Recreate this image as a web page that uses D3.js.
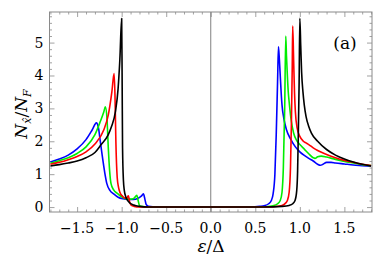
<!DOCTYPE html>
<html>
<head>
<meta charset="utf-8">
<script src="https://cdn.jsdelivr.net/npm/d3@7"></script>
<style>
  body { margin: 0; background: #fff; }
  svg { display: block; }
</style>
</head>
<body>
<script>
// values: [eps/Delta, N/N_F]
const blueData = [
  [-1.8, 1.37], [-1.7, 1.46], [-1.6, 1.58], [-1.5, 1.77], [-1.4, 2.05], [-1.33, 2.35],
  [-1.284, 2.56], [-1.26, 2.4], [-1.24, 2.0], [-1.22, 1.6], [-1.19, 1.05], [-1.167, 0.72],
  [-1.13, 0.5], [-1.09, 0.4], [-1.04, 0.3], [-0.985, 0.25], [-0.93, 0.23], [-0.87, 0.23],
  [-0.82, 0.26], [-0.78, 0.33], [-0.756, 0.4], [-0.74, 0.25], [-0.725, 0.08], [-0.7, 0.02],
  [-0.6, 0.0], [0.45, 0.0], [0.55, 0.02], [0.6, 0.04], [0.65, 0.1], [0.68, 0.2], [0.7, 0.4],
  [0.72, 1.0], [0.735, 2.2], [0.75, 3.8], [0.76, 4.87], [0.77, 4.5], [0.78, 4.0], [0.79, 3.5],
  [0.8, 3.1], [0.82, 2.7], [0.85, 2.35], [0.9, 2.05], [0.95, 1.83], [1.0, 1.68], [1.05, 1.57],
  [1.1, 1.48], [1.15, 1.4], [1.2, 1.3], [1.23, 1.27], [1.26, 1.3], [1.3, 1.36], [1.35, 1.36],
  [1.4, 1.34], [1.5, 1.31], [1.6, 1.28], [1.7, 1.26], [1.8, 1.24]
];
const greenData = [
  [-1.8, 1.33], [-1.7, 1.41], [-1.6, 1.5], [-1.5, 1.63], [-1.4, 1.83], [-1.3, 2.2],
  [-1.24, 2.6], [-1.2, 2.9], [-1.183, 3.05], [-1.165, 2.7], [-1.15, 1.8], [-1.135, 1.1],
  [-1.12, 0.72], [-1.09, 0.52], [-1.05, 0.42], [-1.0, 0.31], [-0.95, 0.25], [-0.9, 0.24],
  [-0.86, 0.27], [-0.83, 0.36], [-0.815, 0.2], [-0.8, 0.05], [-0.78, 0.02], [-0.7, 0.0],
  [0.5, 0.0], [0.62, 0.01], [0.7, 0.04], [0.75, 0.1], [0.78, 0.2], [0.8, 0.45], [0.815, 1.2],
  [0.83, 3.0], [0.842, 5.2], [0.85, 4.6], [0.86, 4.0], [0.87, 3.5], [0.88, 3.2], [0.9, 2.7],
  [0.93, 2.25], [0.97, 2.0], [1.0, 1.9], [1.05, 1.76], [1.1, 1.62], [1.15, 1.5], [1.17, 1.48],
  [1.2, 1.53], [1.24, 1.55], [1.3, 1.52], [1.4, 1.45], [1.5, 1.39], [1.6, 1.34], [1.7, 1.29],
  [1.8, 1.26]
];
const redData = [
  [-1.8, 1.3], [-1.7, 1.36], [-1.6, 1.44], [-1.5, 1.54], [-1.4, 1.68], [-1.3, 1.92],
  [-1.2, 2.35], [-1.15, 2.8], [-1.11, 3.5], [-1.085, 4.06], [-1.075, 3.4], [-1.065, 2.0],
  [-1.05, 0.9], [-1.035, 0.6], [-1.02, 0.45], [-0.99, 0.33], [-0.96, 0.27], [-0.94, 0.28],
  [-0.925, 0.34], [-0.91, 0.15], [-0.89, 0.05], [-0.86, 0.02], [-0.8, 0.0], [0.6, 0.0],
  [0.7, 0.01], [0.8, 0.05], [0.84, 0.12], [0.86, 0.2], [0.88, 0.45], [0.895, 1.2],
  [0.905, 2.5], [0.915, 4.3], [0.92, 5.5], [0.93, 4.5], [0.94, 3.5], [0.95, 2.9], [0.97, 2.4],
  [1.0, 2.15], [1.04, 2.0], [1.07, 1.95], [1.1, 1.9], [1.15, 1.8], [1.2, 1.72], [1.3, 1.6],
  [1.4, 1.5], [1.5, 1.42], [1.6, 1.36], [1.7, 1.3], [1.8, 1.26]
];
const blackData = [
  [-1.8, 1.25], [-1.7, 1.29], [-1.6, 1.34], [-1.5, 1.4], [-1.4, 1.5], [-1.3, 1.66],
  [-1.23, 1.9], [-1.15, 2.2], [-1.115, 2.44], [-1.07, 2.9], [-1.04, 3.6], [-1.02, 4.5],
  [-1.0, 5.73], [-0.995, 4.0], [-0.99, 1.8], [-0.98, 0.8], [-0.97, 0.5], [-0.955, 0.32],
  [-0.936, 0.21], [-0.91, 0.13], [-0.88, 0.08], [-0.85, 0.05], [-0.8, 0.02], [-0.7, 0.0],
  [0.6, 0.0], [0.8, 0.02], [0.88, 0.05], [0.92, 0.1], [0.946, 0.2], [0.965, 0.5], [0.975, 1.1],
  [0.983, 2.24], [0.992, 3.8], [1.0, 5.74], [1.01, 4.9], [1.02, 4.1], [1.035, 3.5],
  [1.05, 3.1], [1.07, 2.75], [1.1, 2.45], [1.13, 2.25], [1.2, 2.0], [1.3, 1.75], [1.4, 1.58],
  [1.5, 1.46], [1.6, 1.37], [1.7, 1.3], [1.8, 1.25]
];
const series = [
  { data: blueData, color: '#0000ff' },
  { data: greenData, color: '#00ee00' },
  { data: redData, color: '#ff0000' },
  { data: blackData, color: '#000000' }
];
const xTicks = [-1.5, -1.0, -0.5, 0.0, 0.5, 1.0, 1.5];
const yTicks = [0, 1, 2, 3, 4, 5];

const w = 388, h = 272;
const mLeft = 49.5, mRight = 372, mTop = 12, mBottom = 212;
const serif = 'DejaVu Serif, serif';

const svg = d3.select('body').append('svg').attr('width', w).attr('height', h)
  .attr('font-family', serif);

const x = d3.scaleLinear().domain([-1.81, 1.81]).range([mLeft, mRight]);
const y = d3.scaleLinear().domain([-0.15, 5.93]).range([mBottom, mTop]);

const frameColor = '#8a8a8a';

// minor ticks (every 0.1 on x, 0.2 on y)
const xMinor = d3.range(-18, 19).map(i => i / 10).filter(v => !xTicks.some(t => Math.abs(t - v) < 1e-9));
const yMinor = d3.range(0, 30).map(i => i / 5).filter(v => v <= 5.9 && !yTicks.includes(v));

function tickAxis(axisFn, scale, vals, size, tf) {
  const g = svg.append('g').attr('transform', tf)
    .call(axisFn(scale).tickValues(vals).tickSize(-size).tickFormat(''));
  g.select('.domain').remove();
  g.selectAll('line').attr('stroke', frameColor).attr('stroke-width', 0.8);
  return g;
}
tickAxis(d3.axisBottom, x, xTicks, 5, `translate(0,${mBottom})`);
tickAxis(d3.axisBottom, x, xMinor, 2.5, `translate(0,${mBottom})`);
tickAxis(d3.axisTop, x, xTicks, 5, `translate(0,${mTop})`);
tickAxis(d3.axisTop, x, xMinor, 2.5, `translate(0,${mTop})`);
tickAxis(d3.axisLeft, y, yTicks, 5, `translate(${mLeft},0)`);
tickAxis(d3.axisLeft, y, yMinor, 2.5, `translate(${mLeft},0)`);
tickAxis(d3.axisRight, y, yTicks, 5, `translate(${mRight},0)`);
tickAxis(d3.axisRight, y, yMinor, 2.5, `translate(${mRight},0)`);

// tick labels
const fmt = v => (v < 0 ? '\u2212' : '') + Math.abs(v).toFixed(1);
svg.append('g').selectAll('text').data(xTicks).join('text')
  .attr('x', d => x(d)).attr('y', mBottom + 21)
  .attr('font-family', serif)
  .attr('text-anchor', 'middle').attr('font-size', 14).text(fmt);
svg.append('g').selectAll('text').data(yTicks).join('text')
  .attr('x', mLeft - 6).attr('y', d => y(d) + 5)
  .attr('font-family', serif)
  .attr('text-anchor', 'end').attr('font-size', 14).text(d => d);

// zero line
svg.append('line')
  .attr('x1', x(0)).attr('x2', x(0)).attr('y1', mTop).attr('y2', mBottom)
  .attr('stroke', '#808080').attr('stroke-width', 1);

// curves
const line = d3.line().x(d => x(d[0])).y(d => y(d[1])).curve(d3.curveMonotoneX);
svg.append('g').selectAll('path').data(series).join('path')
  .attr('d', d => line(d.data))
  .attr('fill', 'none')
  .attr('stroke', d => d.color)
  .attr('stroke-width', 1.6)
  .attr('stroke-linejoin', 'round');

// frame
svg.append('rect')
  .attr('x', mLeft).attr('y', mTop).attr('width', mRight - mLeft).attr('height', mBottom - mTop)
  .attr('fill', 'none').attr('stroke', frameColor).attr('stroke-width', 1);

// labels
svg.append('text').attr('x', 345).attr('y', 49).attr('text-anchor', 'middle')
  .attr('font-family', serif).attr('font-size', 17).text('(a)');

const xl = svg.append('text').attr('x', 211).attr('y', 252).attr('text-anchor', 'middle')
  .attr('font-family', serif).attr('font-size', 17);
xl.append('tspan').attr('font-style', 'italic').text('\u03b5');
xl.append('tspan').text('/\u0394');

const yl = svg.append('text')
  .attr('transform', 'translate(27,114) rotate(-90)')
  .attr('font-family', serif)
  .attr('text-anchor', 'middle').attr('font-size', 17);
yl.append('tspan').attr('font-style', 'italic').text('N');
yl.append('tspan').attr('font-style', 'italic').attr('font-size', 11).attr('dy', 4).text('x\u0302');
yl.append('tspan').attr('dy', -4).text('/');
yl.append('tspan').attr('font-style', 'italic').text('N');
yl.append('tspan').attr('font-style', 'italic').attr('font-size', 11).attr('dy', 4).text('F');
</script>
</body>
</html>
